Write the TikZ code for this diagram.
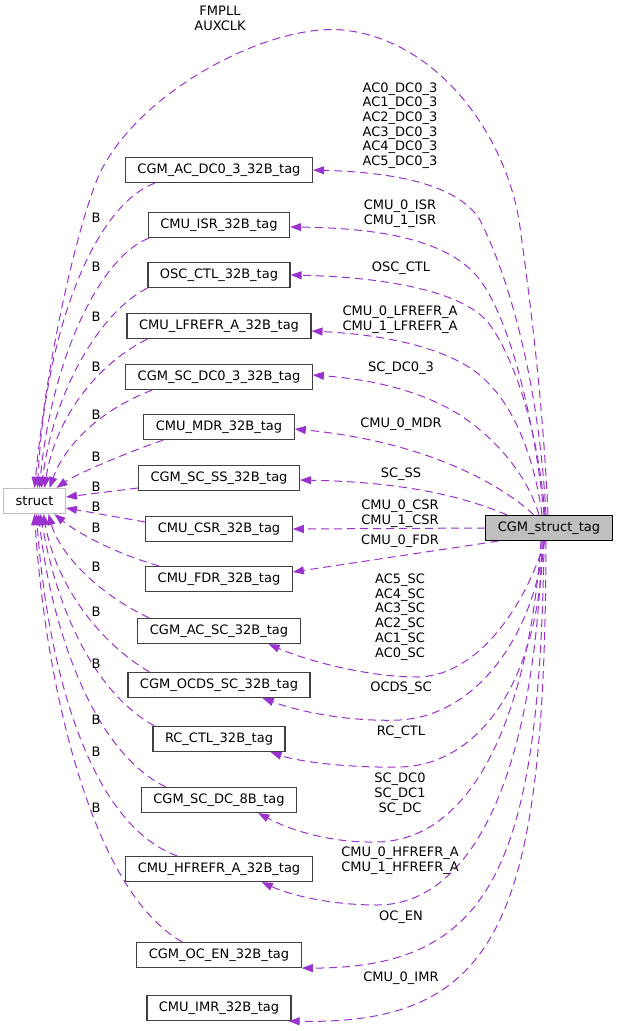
\documentclass[tikz,border=0pt]{standalone}
\usepackage{fontspec}
\setmainfont{DejaVu Sans}
\usepackage{tikz}
\usetikzlibrary{positioning, calc, arrows.meta}

\definecolor{edgepurple}{HTML}{9A32CD}
\definecolor{boxgray}{HTML}{404040}
\definecolor{lightgray}{HTML}{BFBFBF}

\begin{document}
\begin{tikzpicture}[x=1pt, y=-1pt,
    font=\fontsize{13}{14.7}\selectfont,
    tag/.style={draw=boxgray, line width=1.2pt, minimum height=25pt, inner xsep=12pt, inner ysep=0pt, anchor=center},
    dep/.style={draw=edgepurple, line width=1pt, dash pattern=on 8pt off 5pt, -{Triangle[length=11pt,width=8pt]}},
    lbl/.style={inner sep=0pt, align=center}]
    \useasboundingbox (0,0) rectangle (617,1031);

    % Nodes
    \node[tag, draw=lightgray] (strct) at (34.5,501) {struct};
    \node[tag, draw=black, fill=lightgray] (cst) at (549,528) {CGM\_struct\_tag};
    \node[tag] (acdc) at (219,170) {CGM\_AC\_DC0\_3\_32B\_tag};
    \node[tag] (isr) at (219,225) {CMU\_ISR\_32B\_tag};
    \node[tag] (osc) at (219,275) {OSC\_CTL\_32B\_tag};
    \node[tag] (lfrefr) at (219,326) {CMU\_LFREFR\_A\_32B\_tag};
    \node[tag] (scdcthree) at (219,377) {CGM\_SC\_DC0\_3\_32B\_tag};
    \node[tag] (mdr) at (219,427) {CMU\_MDR\_32B\_tag};
    \node[tag] (scss) at (219,478) {CGM\_SC\_SS\_32B\_tag};
    \node[tag] (csr) at (219,529) {CMU\_CSR\_32B\_tag};
    \node[tag] (fdr) at (219,579) {CMU\_FDR\_32B\_tag};
    \node[tag] (acsc) at (219,631) {CGM\_AC\_SC\_32B\_tag};
    \node[tag] (ocds) at (219,685) {CGM\_OCDS\_SC\_32B\_tag};
    \node[tag] (rcctl) at (219,739) {RC\_CTL\_32B\_tag};
    \node[tag] (scdceight) at (219,800) {CGM\_SC\_DC\_8B\_tag};
    \node[tag] (hfrefr) at (219,869) {CMU\_HFREFR\_A\_32B\_tag};
    \node[tag] (ocen) at (219,955) {CGM\_OC\_EN\_32B\_tag};
    \node[tag] (imr) at (219,1008) {CMU\_IMR\_32B\_tag};

    % struct -> tags (B)
    \draw[dep] ($(acdc.south west)+(30,0)$) .. controls (95,205) and (45,330) .. ($(strct.north)+(3,0)$);
    \draw[dep] ($(isr.south west)+(1,0)$) .. controls (95,260) and (50,370) .. ($(strct.north)+(5,0)$);
    \draw[dep] (osc.south west) .. controls (95,315) and (52,400) .. ($(strct.north)+(7,0)$);
    \draw[dep] ($(lfrefr.south west)+(21,0)$) .. controls (95,365) and (55,420) .. ($(strct.north)+(10,0)$);
    \draw[dep] ($(scdcthree.south west)+(27,0)$) .. controls (100,410) and (65,445) .. ($(strct.north)+(15,0)$);
    \draw[dep] ($(mdr.south west)+(20,0)$) .. controls (120,455) and (75,475) .. ($(strct.north)+(22,0)$);
    \draw[dep] ($(scss.west)+(0,10)$) -- ($(strct.east)+(0,-4)$);
    \draw[dep] ($(csr.west)+(0,-7)$) -- ($(strct.east)+(0,7)$);
    \draw[dep] ($(fdr.north west)+(14,0)$) .. controls (120,555) and (80,535) .. ($(strct.south)+(20,0)$);
    \draw[dep] ($(acsc.north west)+(12,0)$) .. controls (100,595) and (60,555) .. ($(strct.south)+(14,0)$);
    \draw[dep] ($(ocds.north west)+(22,0)$) .. controls (95,640) and (55,580) .. ($(strct.south)+(9,0)$);
    \draw[dep] ($(rcctl.north west)+(2,0)$) .. controls (90,690) and (55,600) .. ($(strct.south)+(6,0)$);
    \draw[dep] ($(scdceight.north west)+(25,0)$) .. controls (90,750) and (50,620) .. ($(strct.south)+(4,0)$);
    \draw[dep] ($(hfrefr.north west)+(52,0)$) .. controls (80,820) and (45,640) .. ($(strct.south)+(2,0)$);
    \draw[dep] ($(ocen.north west)+(46,0)$) .. controls (90,890) and (45,680) .. (strct.south);
    \foreach \y in {218,267,317,367,415,457,487,507,528,567,612,664,720,752,808}
        \node[lbl] at (96,\y) {B};

    % CGM_struct_tag -> members
    \draw[dep] ($(cst.north)+(-1,0)$) .. controls (543,400) and (530,300) .. (520,227)
        .. controls (508,139) and (440,40) .. (343,30)
        .. controls (270,23) and (140,90) .. (100,173)
        .. controls (85,204) and (50,330) .. (strct.north);
    \draw[dep] ($(cst.north)+(-3,0)$) .. controls (540,400) and (515,290) .. (480,220)
        .. controls (455,180) and (380,172) .. (acdc.east);
    \draw[dep] ($(cst.north)+(-5,0)$) .. controls (535,420) and (510,320) .. (480,280)
        .. controls (450,240) and (380,228) .. ($(isr.east)+(0,2)$);
    \draw[dep] ($(cst.north)+(-4,0)$) .. controls (538,430) and (515,360) .. (490,325)
        .. controls (465,290) and (380,277) .. (osc.east);
    \draw[dep] ($(cst.north)+(-7,0)$) .. controls (535,460) and (515,410) .. (490,385)
        .. controls (460,350) and (390,335) .. ($(lfrefr.east)+(0,5)$);
    \draw[dep] ($(cst.north)+(-10,0)$) .. controls (530,485) and (510,455) .. (480,430)
        .. controls (440,395) and (380,380) .. ($(scdcthree.east)+(0,-2)$);
    \draw[dep] ($(cst.north)+(-15,0)$) .. controls (490,475) and (410,440) .. ($(mdr.east)+(0,2)$);
    \draw[dep] ($(cst.north)+(-42,0)$) .. controls (460,495) and (400,482) .. ($(scss.east)+(0,2)$);
    \draw[dep] (cst.west) -- (csr.east);
    \draw[dep] ($(cst.south west)+(13,0)$) -- ($(fdr.east)+(0,-7)$);
    \draw[dep] ($(cst.south)+(-4,0)$) .. controls (520,620) and (470,677) .. (417,677)
        .. controls (370,677) and (310,662) .. ($(acsc.south east)+(-32,0)$);
    \draw[dep] ($(cst.south)+(-5,0)$) .. controls (535,630) and (480,715) .. (400,720)
        .. controls (350,722) and (300,712) .. ($(ocds.south east)+(-48,0)$);
    \draw[dep] ($(cst.south)+(-6,0)$) .. controls (540,680) and (480,765) .. (400,767)
        .. controls (350,768) and (300,762) .. ($(rcctl.south east)+(-15,0)$);
    \draw[dep] ($(cst.south)+(-8,0)$) .. controls (530,700) and (480,840) .. (377,842)
        .. controls (330,843) and (290,830) .. ($(scdceight.south east)+(-39,0)$);
    \draw[dep] ($(cst.south)+(-7,0)$) .. controls (535,780) and (470,905) .. (377,905)
        .. controls (330,905) and (290,895) .. ($(hfrefr.south east)+(-51,0)$);
    \draw[dep] ($(cst.south)+(-5,0)$) .. controls (540,870) and (490,968) .. (ocen.south east);
    \draw[dep] ($(cst.south)+(-3,0)$) .. controls (545,920) and (500,1025) .. ($(imr.south east)+(-3,0)$);

    % Member labels
    \node[lbl] (lfmpll) at (220,18.5) {FMPLL\\AUXCLK};
    \node[lbl] (lacdc) at (400,125.5) {AC0\_DC0\_3\\AC1\_DC0\_3\\AC2\_DC0\_3\\AC3\_DC0\_3\\AC4\_DC0\_3\\AC5\_DC0\_3};
    \node[lbl] (lisr) at (400,214) {CMU\_0\_ISR\\CMU\_1\_ISR};
    \node[lbl] (losc) at (401,268) {OSC\_CTL};
    \node[lbl] (llfrefr) at (400,319.5) {CMU\_0\_LFREFR\_A\\CMU\_1\_LFREFR\_A};
    \node[lbl] (lscdcthree) at (401,368) {SC\_DC0\_3};
    \node[lbl] (lmdr) at (401,424) {CMU\_0\_MDR};
    \node[lbl] (lscss) at (401,474) {SC\_SS};
    \node[lbl] (lcsr) at (400,513.5) {CMU\_0\_CSR\\CMU\_1\_CSR};
    \node[lbl] (lfdr) at (400,541) {CMU\_0\_FDR};
    \node[lbl] (lacsc) at (400,617) {AC5\_SC\\AC4\_SC\\AC3\_SC\\AC2\_SC\\AC1\_SC\\AC0\_SC};
    \node[lbl] (locds) at (401,688) {OCDS\_SC};
    \node[lbl] (lrcctl) at (401,732) {RC\_CTL};
    \node[lbl] (lscdceight) at (400,794) {SC\_DC0\\SC\_DC1\\SC\_DC};
    \node[lbl] (lhfrefr) at (400,861) {CMU\_0\_HFREFR\_A\\CMU\_1\_HFREFR\_A};
    \node[lbl] (locen) at (401,917) {OC\_EN};
    \node[lbl] (limr) at (401,978) {CMU\_0\_IMR};
\end{tikzpicture}
\end{document}
